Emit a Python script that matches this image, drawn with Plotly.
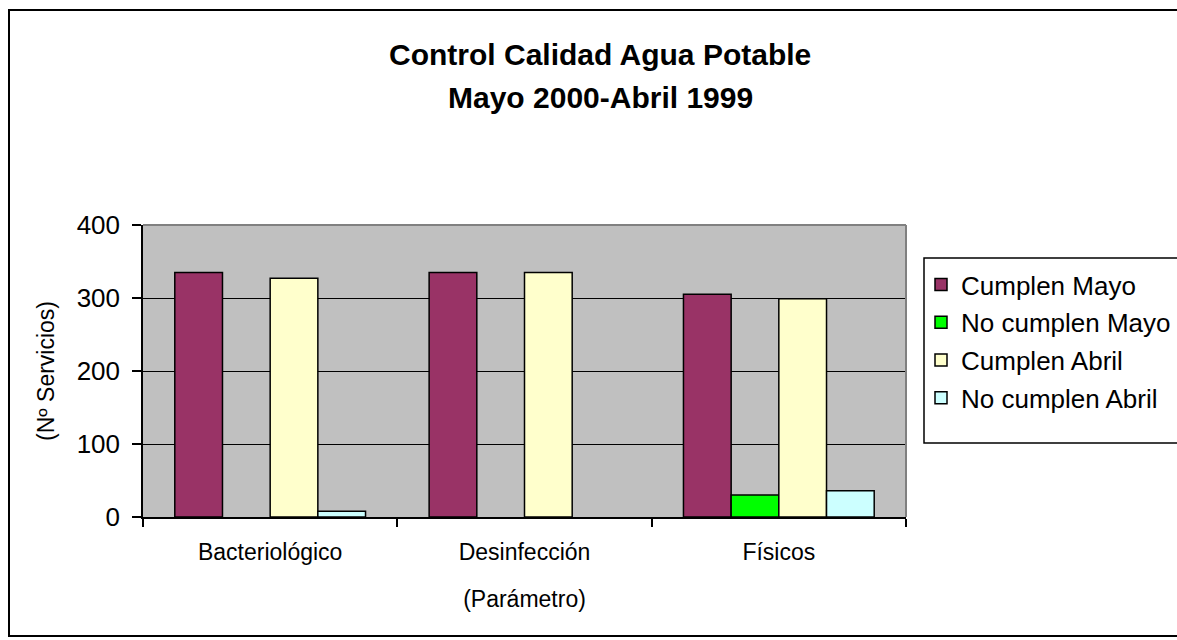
import plotly.graph_objects as go

categories = ["Bacteriológico", "Desinfección", "Físicos"]
series_names = ["Cumplen Mayo", "No cumplen Mayo", "Cumplen Abril", "No cumplen Abril"]
cumplen_mayo = [335, 335, 305]
no_cumplen_mayo = [0, 0, 30]
cumplen_abril = [327, 335, 299]
no_cumplen_abril = [8, 0, 36]
series_values = [cumplen_mayo, no_cumplen_mayo, cumplen_abril, no_cumplen_abril]
colors = ["#993366", "#00FF00", "#FFFFCC", "#CCFFFF"]
y_ticks = [0, 100, 200, 300, 400]

FONT = "Liberation Sans, Arial, sans-serif"

fig = go.Figure()
for name, vals, col in zip(series_names, series_values, colors):
    fig.add_trace(go.Bar(
        x=categories, y=[v if v else None for v in vals], name=name,
        marker=dict(color=col, line=dict(color="black", width=1.5)),
        legendgroup=name,
    ))

# plot geometry (pixels)
L, R, T, B = 143, 906, 225, 517
W, H = 1177, 640
pw, ph = R - L, B - T

def px(x):
    return (x - L) / pw

def py(y):
    return (B - y) / ph

fig.update_layout(
    width=W, height=H,
    margin=dict(l=L, r=W - R, t=T, b=H - B, pad=0, autoexpand=False),
    paper_bgcolor="white", plot_bgcolor="#C0C0C0",
    barmode="group", bargap=0.25, bargroupgap=0,
    font=dict(family=FONT, color="black"),
    showlegend=True,
    legend=dict(
        x=px(921), y=py(261), xanchor="left", yanchor="top",
        bgcolor="rgba(0,0,0,0)", borderwidth=0,
        font=dict(size=26, family=FONT), tracegroupgap=1,
        itemclick=False,
    ),
    xaxis=dict(
        showgrid=False, showline=True, linecolor="black", linewidth=1.5,
        ticks="outside", tickson="boundaries", ticklen=8, tickwidth=1.5, tickcolor="black",
        tickfont=dict(size=23), ticklabelstandoff=14,
        title=dict(text="(Parámetro)", font=dict(size=23), standoff=27),
    ),
    yaxis=dict(
        range=[0, 400], tickvals=y_ticks, showgrid=True, gridcolor="black", gridwidth=1.3,
        showline=True, linecolor="black", linewidth=1.5, zeroline=False,
        ticks="outside", ticklen=9, tickwidth=1.5, tickcolor="black",
        tickfont=dict(size=26), ticklabelstandoff=7,
        title=dict(text="(Nº Servicios)", font=dict(size=23), standoff=16),
    ),
    shapes=[
        dict(type="rect", xref="paper", yref="paper", x0=px(9), x1=px(1190), y0=py(636), y1=py(10),
             line=dict(color="black", width=2), fillcolor="rgba(0,0,0,0)", layer="below"),
        dict(type="line", xref="paper", yref="paper", x0=0, x1=1, y0=1, y1=1,
             line=dict(color="#808080", width=2)),
        dict(type="line", xref="paper", yref="paper", x0=1, x1=1, y0=0, y1=1,
             line=dict(color="#808080", width=2)),
        dict(type="rect", xref="paper", yref="paper", x0=px(924), x1=px(1190), y0=py(443), y1=py(258),
             line=dict(color="black", width=1.5), fillcolor="white", layer="below"),
    ],
    annotations=[
        dict(text="<b>Control Calidad Agua Potable</b>", xref="paper", yref="paper",
             x=px(600), y=py(55), xanchor="center", yanchor="middle", showarrow=False,
             font=dict(size=30, family=FONT)),
        dict(text="<b>Mayo 2000-Abril 1999</b>", xref="paper", yref="paper",
             x=px(600), y=py(97), xanchor="center", yanchor="middle", showarrow=False,
             font=dict(size=30, family=FONT)),
    ],
)

fig.write_html("out.html", config={"displayModeBar": False},
               post_script="document.body.style.margin='0';document.body.style.overflow='hidden';")
